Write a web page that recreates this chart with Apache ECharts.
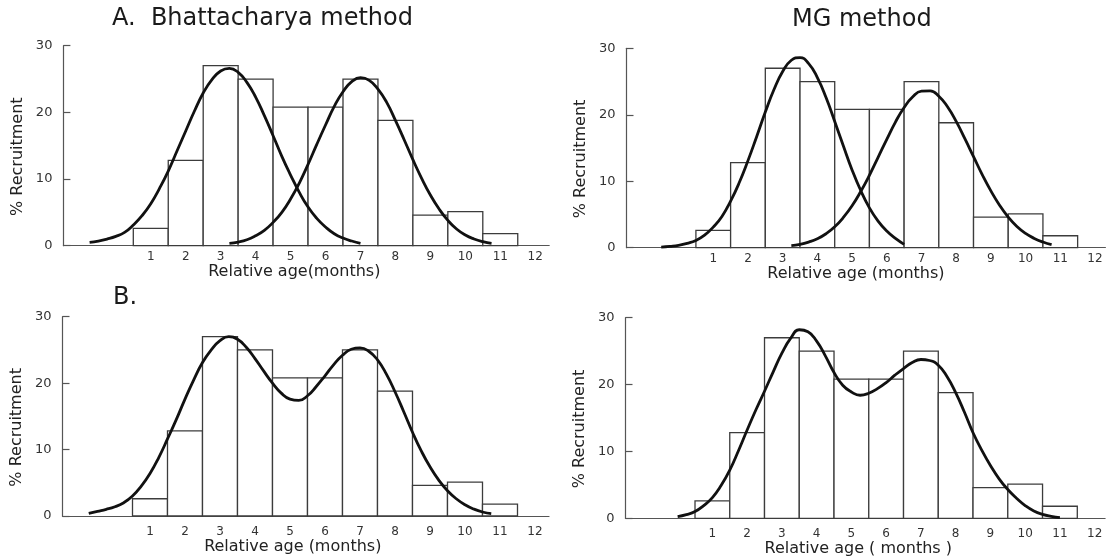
<!DOCTYPE html>
<html>
<head>
<meta charset="utf-8">
<title>Recruitment by relative age</title>
<script src="https://cdn.jsdelivr.net/npm/echarts@6.0.0/dist/echarts.min.js"></script>
<style>
  html, body { margin: 0; padding: 0; background: #fff; }
  #chart { width: 1109px; height: 560px; }
</style>
</head>
<body>
<div id="chart"></div>
<script>
  // histogram: % recruitment per month of relative age (same in all 4 panels)
  const months = [1, 2, 3, 4, 5, 6, 7, 8, 9, 10, 11]
  const recruitment = [2.6, 12.8, 27.0, 25.0, 20.8, 20.8, 25.0, 18.8, 4.6, 5.1, 1.8]

  const xTickLabels = [1, 2, 3, 4, 5, 6, 7, 8, 9, 10, 11, 12]
  const yTickLabels = [0, 10, 20, 30]

  // fitted curves, [month, %]
  // A. Bhattacharya method - two cohorts
  const bhatCohort1 = [[-0.75, 0.5], [-0.5, 0.7], [-0.25, 1.0], [0, 1.4], [0.25, 2.0], [0.5, 3.1], [0.75, 4.5],
    [1, 6.3], [1.25, 8.6], [1.5, 11.2], [1.75, 14.2], [2, 17.2], [2.25, 20.2], [2.5, 22.9], [2.75, 24.9],
    [3, 26.2], [3.25, 26.6], [3.5, 26.0], [3.75, 24.5], [4, 22.3], [4.25, 19.5], [4.5, 16.5], [4.75, 13.4],
    [5, 10.6], [5.25, 8.0], [5.5, 5.8], [5.75, 4.1], [6, 2.8], [6.25, 1.8], [6.5, 1.15], [6.75, 0.7], [7, 0.35]]
  const bhatCohort2 = [[3.25, 0.35], [3.5, 0.55], [3.75, 0.9], [4, 1.5], [4.25, 2.3], [4.5, 3.5], [4.75, 5.0],
    [5, 7.0], [5.25, 9.4], [5.5, 12.2], [5.75, 15.2], [6, 18.1], [6.25, 20.9], [6.5, 23.1], [6.75, 24.6],
    [7, 25.2], [7.25, 24.8], [7.5, 23.5], [7.75, 21.5], [8, 18.8], [8.25, 15.9], [8.5, 12.9], [8.75, 10.1],
    [9, 7.6], [9.25, 5.5], [9.5, 3.8], [9.75, 2.5], [10, 1.6], [10.25, 1.0], [10.5, 0.6], [10.75, 0.35]]
  // A. MG method - two cohorts
  const mgCohort1 = [[-0.5, 0.1], [-0.25, 0.2], [0, 0.35], [0.25, 0.65], [0.5, 1.1], [0.75, 1.9], [1, 3.1],
    [1.25, 4.7], [1.5, 7.0], [1.75, 9.8], [2, 13.1], [2.25, 16.7], [2.5, 20.4], [2.75, 23.8], [3, 26.5],
    [3.25, 28.2], [3.5, 28.6], [3.75, 27.7], [4, 25.6], [4.25, 22.6], [4.5, 19.0], [4.75, 15.3], [5, 11.7],
    [5.25, 8.6], [5.5, 6.0], [5.75, 4.0], [6, 2.5], [6.25, 1.4], [6.5, 0.5]]
  const mgCohort2 = [[3.25, 0.3], [3.5, 0.5], [3.75, 0.85], [4, 1.35], [4.25, 2.1], [4.5, 3.15], [4.75, 4.55],
    [5, 6.3], [5.25, 8.45], [5.5, 10.9], [5.75, 13.6], [6, 16.3], [6.25, 18.9], [6.5, 21.1], [6.75, 22.7],
    [7, 23.55], [7.25, 23.6], [7.5, 22.8], [7.75, 21.2], [8, 19.0], [8.25, 16.4], [8.5, 13.7], [8.75, 11.0],
    [9, 8.55], [9.25, 6.4], [9.5, 4.6], [9.75, 3.2], [10, 2.15], [10.25, 1.4], [10.5, 0.85], [10.75, 0.45]]
  // B. summed curves
  const bhatTotal = [[-0.75, 0.4], [-0.5, 0.7], [-0.25, 1.0], [0, 1.4], [0.25, 2.0], [0.5, 3.0], [0.75, 4.5],
    [1, 6.4], [1.25, 8.8], [1.5, 11.6], [1.75, 14.5], [2, 17.6], [2.25, 20.5], [2.5, 23.1], [2.75, 25.0],
    [3, 26.4], [3.25, 27.0], [3.5, 26.6], [3.75, 25.4], [4, 23.7], [4.25, 21.8], [4.5, 20.0], [4.75, 18.5],
    [5, 17.6], [5.25, 17.4], [5.5, 18.1], [5.75, 19.5], [6, 21.1], [6.25, 22.8], [6.5, 24.2], [6.75, 25.1],
    [7, 25.3], [7.25, 24.8], [7.5, 23.5], [7.75, 21.4], [8, 18.7], [8.25, 15.7], [8.5, 12.6], [8.75, 9.8],
    [9, 7.4], [9.25, 5.4], [9.5, 3.8], [9.75, 2.6], [10, 1.7], [10.25, 1.05], [10.5, 0.6], [10.75, 0.35]]
  const mgTotal = [[0, 0.25], [0.25, 0.55], [0.5, 1.0], [0.75, 1.9], [1, 3.1], [1.25, 4.9], [1.5, 7.2],
    [1.75, 10.1], [2, 13.2], [2.25, 16.2], [2.5, 19.0], [2.75, 21.9], [3, 24.7], [3.25, 26.9], [3.5, 28.2],
    [3.75, 27.9], [4, 26.5], [4.25, 24.3], [4.5, 21.8], [4.75, 19.9], [5, 18.9], [5.25, 18.4], [5.5, 18.7],
    [5.75, 19.4], [6, 20.3], [6.25, 21.4], [6.5, 22.4], [6.75, 23.3], [7, 23.75], [7.25, 23.6], [7.5, 22.9],
    [7.75, 21.2], [8, 18.8], [8.25, 15.9], [8.5, 12.8], [8.75, 10.2], [9, 7.9], [9.25, 5.9], [9.5, 4.3],
    [9.75, 3.0], [10, 1.9], [10.25, 1.1], [10.5, 0.6], [10.75, 0.3], [11, 0.1]]

  const FONT = 'DejaVu Sans'

  // panel layout: A-left, A-right, B-left, B-right
  const grids = [
    { left: 63.4, top: 45.7, width: 485.8, height: 200 },
    { left: 626.5, top: 48.3, width: 478.9, height: 199.4 },
    { left: 62.5, top: 316.7, width: 486.5, height: 199.3 },
    { left: 625.5, top: 317.7, width: 479.6, height: 200.6 }
  ]
  const xMax = [12.4, 12.3, 12.4, 12.3]
  const xNames = ['Relative age(months)', 'Relative age (months)', 'Relative age (months)', 'Relative age ( months )']
  const labelMargin = [5, 5, 10, 10]
  const nameGap = [15, 15, 22, 21]
  const nameShift = [24, 20, 26, 14]

  function makeX(i) {
    return {
      type: 'value',
      gridIndex: i,
      min: -1.5,
      max: xMax[i],
      axisLine: { onZero: false, lineStyle: { color: '#555', width: 1.2 } },
      axisTick: { show: false },
      splitLine: { show: false },
      axisLabel: { customValues: xTickLabels, margin: labelMargin[i], color: '#333', fontSize: 12, fontFamily: FONT },
      name: xNames[i],
      nameLocation: 'middle',
      nameGap: nameGap[i],
      nameTextStyle: { fontSize: 16, color: '#222', fontFamily: FONT, padding: [0, nameShift[i], 0, 0] }
    }
  }

  function makeY(i) {
    return {
      type: 'value',
      gridIndex: i,
      min: 0,
      max: 30,
      interval: 10,
      axisLine: { show: true, onZero: false, lineStyle: { color: '#555', width: 1.2 } },
      axisTick: { show: true, inside: true, length: 7, lineStyle: { color: '#555', width: 1.2 } },
      splitLine: { show: false },
      axisLabel: {
        margin: 11, color: '#333', fontSize: 13, fontFamily: FONT,
        customValues: yTickLabels
      },
      name: '% Recruitment',
      nameLocation: 'middle',
      nameGap: 38,
      nameTextStyle: { fontSize: 16, color: '#222', fontFamily: FONT, padding: [0, 22, 0, 0] }
    }
  }

  function renderBar(params, api) {
    const x = api.value(0)
    const y = api.value(1)
    const p0 = api.coord([x - 0.5, y])
    const p1 = api.coord([x + 0.5, 0])
    return {
      type: 'rect',
      shape: { x: p0[0], y: p0[1], width: p1[0] - p0[0], height: p1[1] - p0[1] },
      style: { fill: '#fff', stroke: '#3c3c3c', lineWidth: 1.3 }
    }
  }

  function barSeries(i) {
    return {
      type: 'custom',
      xAxisIndex: i,
      yAxisIndex: i,
      renderItem: renderBar,
      encode: { x: 0, y: 1 },
      data: months.map((m, k) => [m, recruitment[k]]),
      silent: true,
      z: 2
    }
  }

  function curve(i, data) {
    return {
      type: 'line',
      xAxisIndex: i,
      yAxisIndex: i,
      data: data,
      smooth: 0.5,
      symbol: 'none',
      lineStyle: { color: '#111', width: 2.8 },
      silent: true,
      z: 3
    }
  }

  const titleStyle = { fontSize: 24, fontWeight: 'normal', fontFamily: FONT, color: '#1a1a1a' }

  const option = {
    backgroundColor: '#fff',
    animation: false,
    title: [
      { text: 'A.  Bhattacharya method', left: 107, top: 2, textStyle: titleStyle },
      { text: 'MG method', left: 787, top: 3, textStyle: titleStyle },
      { text: 'B.', left: 108, top: 281, textStyle: titleStyle }
    ],
    grid: grids,
    xAxis: [0, 1, 2, 3].map(makeX),
    yAxis: [0, 1, 2, 3].map(makeY),
    series: [
      barSeries(0), barSeries(1), barSeries(2), barSeries(3),
      curve(0, bhatCohort1), curve(0, bhatCohort2),
      curve(1, mgCohort1), curve(1, mgCohort2),
      curve(2, bhatTotal),
      curve(3, mgTotal)
    ]
  }

  const chart = echarts.init(document.getElementById('chart'))
  chart.setOption(option)
</script>
</body>
</html>
